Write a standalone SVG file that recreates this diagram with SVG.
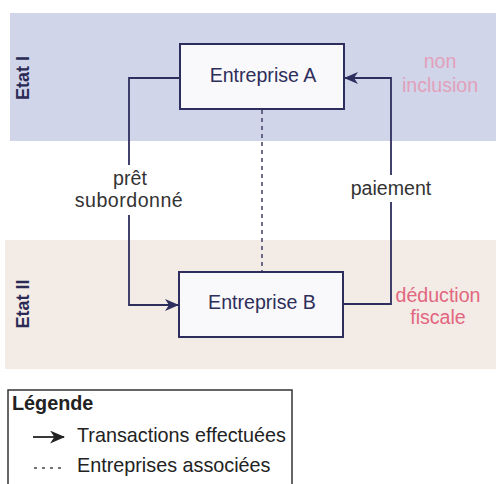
<svg xmlns="http://www.w3.org/2000/svg" width="496" height="484" viewBox="0 0 496 484">
<style>
.band-label{font-family:"Liberation Sans",Arial,sans-serif;font-weight:bold;font-size:18px;fill:#2a2a55}
.node-box{fill:#f9f9fc;stroke:#2e2e5e;stroke-width:2}
.node-text{font-family:"Liberation Sans",Arial,sans-serif;font-size:19.6px;fill:#2e2e5a;text-anchor:middle}
.conn{fill:none;stroke:#2e2e5e;stroke-width:1.8}
.dash{fill:none;stroke:#4a4a6e;stroke-width:1.6;stroke-dasharray:4 4}
.lbl{font-family:"Liberation Sans",Arial,sans-serif;font-size:19.6px;fill:#333;text-anchor:middle}
.tax{font-family:"Liberation Sans",Arial,sans-serif;font-size:19.6px;text-anchor:middle}
.leg{font-family:"Liberation Sans",Arial,sans-serif;font-size:19.8px;fill:#222}
</style>
<defs>
<marker id="arr" viewBox="0 0 14 12" refX="13" refY="6" markerWidth="14" markerHeight="12" markerUnits="userSpaceOnUse" orient="auto">
<path d="M0,0 L14,6 L0,12 L4,6 Z" fill="#2e2e5e"/>
</marker>
<marker id="arrL" viewBox="0 0 14 12" refX="13" refY="6" markerWidth="15" markerHeight="13" markerUnits="userSpaceOnUse" orient="auto">
<path d="M0,0 L14,6 L0,12 L4,6 Z" fill="#222"/>
</marker>
</defs>
<rect width="496" height="484" fill="#ffffff"/>
<g id="etat1">
<rect x="10" y="13" width="486" height="128" fill="#d0d5e9"/>
<text class="band-label" transform="translate(29,78) rotate(-90)" text-anchor="middle">Etat I</text>
</g>
<g id="etat2">
<rect x="5" y="240" width="491" height="129" fill="#f3ebe6"/>
<text class="band-label" transform="translate(29,304) rotate(-90)" text-anchor="middle">Etat II</text>
</g>
<g id="connectors">
<polyline class="conn" points="180,78 129,78 129,165"/>
<polyline class="conn" points="129,215 129,305 178,305" marker-end="url(#arr)"/>
<polyline class="conn" points="343,304 391,304 391,202"/>
<polyline class="conn" points="391,175 391,78 345,78" marker-end="url(#arr)"/>
<line class="dash" x1="262" y1="110" x2="262" y2="271"/>
<text class="lbl" x="130" y="185">prêt</text>
<text class="lbl" x="129" y="207" letter-spacing="0.5">subordonné</text>
<text class="lbl" x="391" y="195">paiement</text>
</g>
<g id="entrepriseA">
<rect class="node-box" x="180" y="44" width="164" height="65"/>
<text class="node-text" x="263" y="82">Entreprise A</text>
</g>
<g id="entrepriseB">
<rect class="node-box" x="179" y="272" width="164" height="65"/>
<text class="node-text" x="262" y="309">Entreprise B</text>
</g>
<g id="tax-labels">
<text class="tax" x="440" y="68" fill="#e2a0bb">non</text>
<text class="tax" x="440" y="92" fill="#e2a0bb">inclusion</text>
<text class="tax" x="438" y="302" fill="#e2667f">déduction</text>
<text class="tax" x="438" y="324" fill="#e2667f">fiscale</text>
</g>
<g id="legende">
<rect x="8" y="390" width="284" height="110" fill="#ffffff" stroke="#333" stroke-width="1.5"/>
<text class="leg" x="12" y="410" font-weight="bold" font-size="18.5">Légende</text>
<line x1="33" y1="437" x2="64" y2="437" stroke="#222" stroke-width="1.8" marker-end="url(#arrL)"/>
<text class="leg" x="77" y="442">Transactions effectuées</text>
<line x1="34" y1="468" x2="63" y2="468" stroke="#444" stroke-width="1.5" stroke-dasharray="3 5"/>
<text class="leg" x="77" y="472">Entreprises associées</text>
</g>
</svg>
